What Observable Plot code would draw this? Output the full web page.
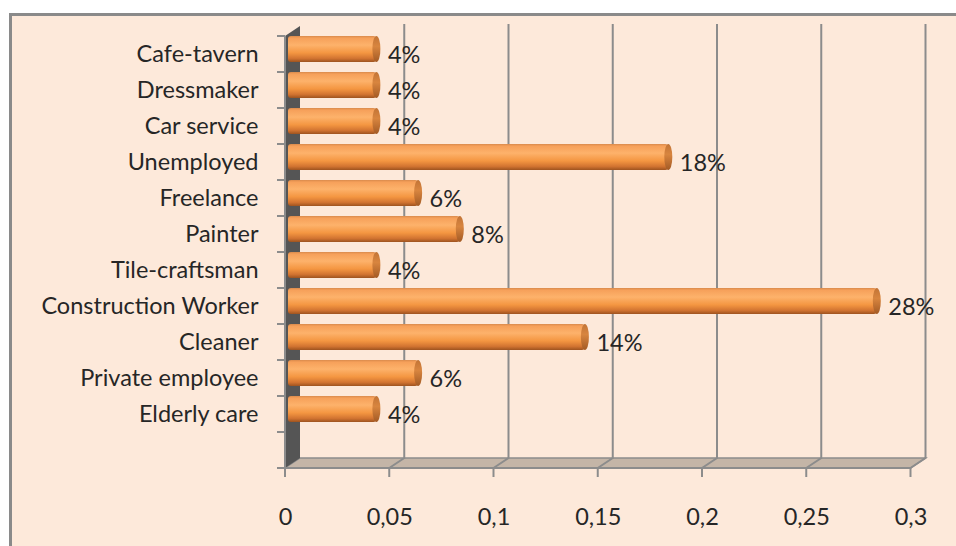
<!DOCTYPE html>
<html>
<head>
<meta charset="utf-8">
<script src="https://cdn.jsdelivr.net/npm/d3@7"></script>
<script src="https://cdn.jsdelivr.net/npm/@observablehq/plot@0.6"></script>
<style>
  html, body { margin: 0; padding: 0; background: #ffffff; width: 956px; height: 546px; overflow: hidden; }
  #frame { position: absolute; left: 9px; top: 13px; width: 980px; height: 560px; background: #fde9da; border: 3px solid #8a8a8a; box-sizing: border-box; }
  #chart { position: absolute; left: 0; top: 0; }
  #chart svg { background: transparent; }
</style>
</head>
<body>
<div id="frame"></div>
<div id="chart"></div>
<script>
// Data (top to bottom)
const categories = ["Cafe-tavern", "Dressmaker", "Car service", "Unemployed", "Freelance", "Painter",
  "Tile-craftsman", "Construction Worker", "Cleaner", "Private employee", "Elderly care"];
const shares = [0.04, 0.04, 0.04, 0.18, 0.06, 0.08, 0.04, 0.28, 0.14, 0.06, 0.04];
const xTicks = [0, 0.05, 0.1, 0.15, 0.2, 0.25, 0.3];

const data = categories.map((name, i) => ({name, value: shares[i]}));
const yDomain = [...categories, " "]; // empty slot in front of the floor

const DX = 15, DY = -10; // 3D depth offset
const FONT = "Lato, 'Open Sans', sans-serif";

function decor(index, scales) {
  const x = scales.x, y = scales.y;
  const bw = y.bandwidth();
  const yTop = y(yDomain[0]);
  const yBot = y(yDomain[yDomain.length - 1]) + bw;
  const x0 = x(xTicks[0]), x1 = x(xTicks[xTicks.length - 1]);
  const g = d3.create("svg:g");
  // floor
  g.append("polygon")
    .attr("points", [[x0, yBot], [x1, yBot], [x1 + DX, yBot + DY], [x0 + DX, yBot + DY]].map(p => p.join(",")).join(" "))
    .attr("fill", "#c4b5a7").attr("stroke", "#8c8c8c").attr("stroke-width", 1.5);
  // gridlines on back wall + across floor
  for (const t of xTicks.slice(1)) {
    g.append("path")
      .attr("d", `M${x(t) + DX},${yTop + DY - 2}L${x(t) + DX},${yBot + DY}L${x(t)},${yBot}`)
      .attr("fill", "none").attr("stroke", "#8c8c8c").attr("stroke-width", 2);
  }
  // side wall
  g.append("polygon")
    .attr("points", [[x0, yTop], [x0 + DX, yTop + DY], [x0 + DX, yBot + DY], [x0, yBot]].map(p => p.join(",")).join(" "))
    .attr("fill", "#555555");
  // front x axis line and ticks
  g.append("path").attr("d", `M${x0},${yBot}H${x1}`).attr("stroke", "#8c8c8c").attr("stroke-width", 2);
  for (const t of xTicks) {
    g.append("path").attr("d", `M${x(t)},${yBot}v9`).attr("stroke", "#8c8c8c").attr("stroke-width", 2);
  }
  // left category axis line and ticks at band boundaries
  g.append("path").attr("d", `M${x0},${yTop}V${yBot}`).attr("stroke", "#8c8c8c").attr("stroke-width", 2);
  for (let i = 0; i <= yDomain.length; i++) {
    const yy = yTop + i * bw;
    g.append("path").attr("d", `M${x0 - 8},${yy}H${x0}`).attr("stroke", "#8c8c8c").attr("stroke-width", 2);
  }
  // gradients
  const defs = g.append("defs");
  const gr = defs.append("linearGradient").attr("id", "cyl").attr("x1", 0).attr("y1", 0).attr("x2", 0).attr("y2", 1);
  [[0, "#d98a4c"], [0.08, "#f6a05a"], [0.35, "#fdb26b"], [0.65, "#f49641"], [0.86, "#d27431"], [1, "#9e531f"]]
    .forEach(([o, c]) => gr.append("stop").attr("offset", o).attr("stop-color", c));
  const gc = defs.append("linearGradient").attr("id", "cap").attr("x1", 0).attr("y1", 0).attr("x2", 0).attr("y2", 1);
  [[0, "#c27436"], [0.4, "#d8853f"], [1, "#a35a24"]]
    .forEach(([o, c]) => gc.append("stop").attr("offset", o).attr("stop-color", c));
  return g.node();
}

const chart = Plot.plot({
  width: 956,
  height: 546,
  marginLeft: 285,
  marginRight: 45.5,
  marginTop: 20,
  marginBottom: 75,
  style: {background: "transparent", fontFamily: FONT, fontSize: "23.5px", color: "#262626"},
  x: {domain: [0, 0.3], ticks: xTicks, tickFormat: d => String(d).replace(".", ","), tickSize: 0, tickPadding: 37, label: null},
  y: {domain: yDomain, range: [32, 471], padding: 0, tickSize: 0, tickPadding: 27, label: null},
  marks: [
    decor,
    Plot.barX(data, {x: "value", y: "name", fill: "url(#cyl)", insetTop: 5, insetBottom: 5, insetLeft: 3, insetRight: -8, dy: -5, rx: 3}),
    Plot.barX(data, {x1: "value", x2: "value", y: "name", fill: "url(#cap)", insetTop: 5, insetBottom: 5, insetLeft: 4, insetRight: -12, dy: -5, rx: 4, ry: 13}),
    Plot.text(data, {x: "value", y: "name", text: d => Math.round(d.value * 100) + "%", dx: 19, dy: 1, textAnchor: "start", fontSize: 23.5, fill: "#262626"})
  ]
});
document.getElementById("chart").appendChild(chart);
</script>
</body>
</html>
